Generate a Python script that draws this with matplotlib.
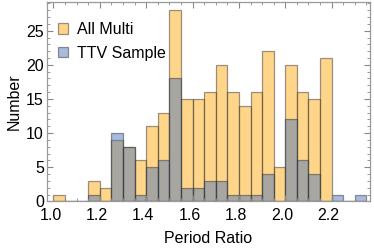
import numpy as np
import matplotlib
matplotlib.use("Agg")
from matplotlib import pyplot as plt
from matplotlib.ticker import MultipleLocator
import matplotlib.transforms as mtrans

plt.rcParams['font.family'] = ['Liberation Sans', 'DejaVu Sans']

# histogram counts, bins of width 0.05 starting at 1.0
bin_edges = np.round(np.arange(1.0, 2.351, 0.05), 2)
all_multi = [1, 0, 0, 3, 2, 9, 8, 6, 11, 13, 28, 15, 15, 16, 20, 16, 14, 16, 22, 5, 20, 16, 15, 21, 0, 0, 0]
ttv_sample = [0, 0, 0, 1, 0, 10, 8, 1, 5, 6, 18, 2, 2, 3, 3, 1, 1, 1, 4, 0, 12, 6, 4, 0, 1, 0, 1]

orange = (1.0, 0.68, 0.08)
blue = (0.32, 0.47, 0.73)
edge = (0.2, 0.2, 0.2, 0.55)
fs = 11.5

fig = plt.figure(figsize=(3.74, 2.49), dpi=100)
ax = fig.add_axes([0.125, 0.191, 0.864, 0.801])

w = 0.05
left = bin_edges[:-1]
ax.bar(left, all_multi, width=w, align='edge', color=orange, alpha=0.5,
       edgecolor=edge, linewidth=0.9, label='All Multi')
ax.bar(left, ttv_sample, width=w, align='edge', color=blue, alpha=0.5,
       edgecolor=edge, linewidth=0.9, label='TTV Sample')

ax.set_xlim(0.971, 2.365)
ax.set_ylim(0, 29.2)
ax.xaxis.set_minor_locator(MultipleLocator(0.05))
ax.yaxis.set_major_locator(MultipleLocator(5))
ax.yaxis.set_minor_locator(MultipleLocator(1))
ax.set_xticks(np.arange(1.0, 2.21, 0.2))
ax.set_xticklabels(['1.0', '1.2', '1.4', '1.6', '1.8', '2.0', '2.2'])

ax.tick_params(which='both', direction='in', top=True, right=True,
               color='#888888', labelsize=fs)
ax.tick_params(axis='y', pad=2)
ax.tick_params(axis='x', pad=4.5)
ax.tick_params(which='major', length=4, width=0.8)
ax.tick_params(which='minor', length=2, width=0.6)
for s in ax.spines.values():
    s.set_color('#999999')
    s.set_linewidth(0.9)

off = mtrans.ScaledTranslation(-3.0 / 100, 0, fig.dpi_scale_trans)
for lab in ax.get_xticklabels():
    lab.set_transform(lab.get_transform() + off)

ax.set_xlabel('Period Ratio', fontsize=fs, labelpad=6)
ax.set_ylabel('Number', fontsize=fs, labelpad=3)

leg = ax.legend(loc='upper left', bbox_to_anchor=(0.0, 0.955), frameon=False,
                fontsize=fs, handlelength=0.62, handleheight=0.62,
                handletextpad=0.6, borderaxespad=0.2, borderpad=0.5,
                labelspacing=0.55)

fig.savefig('out.png', dpi=100)
